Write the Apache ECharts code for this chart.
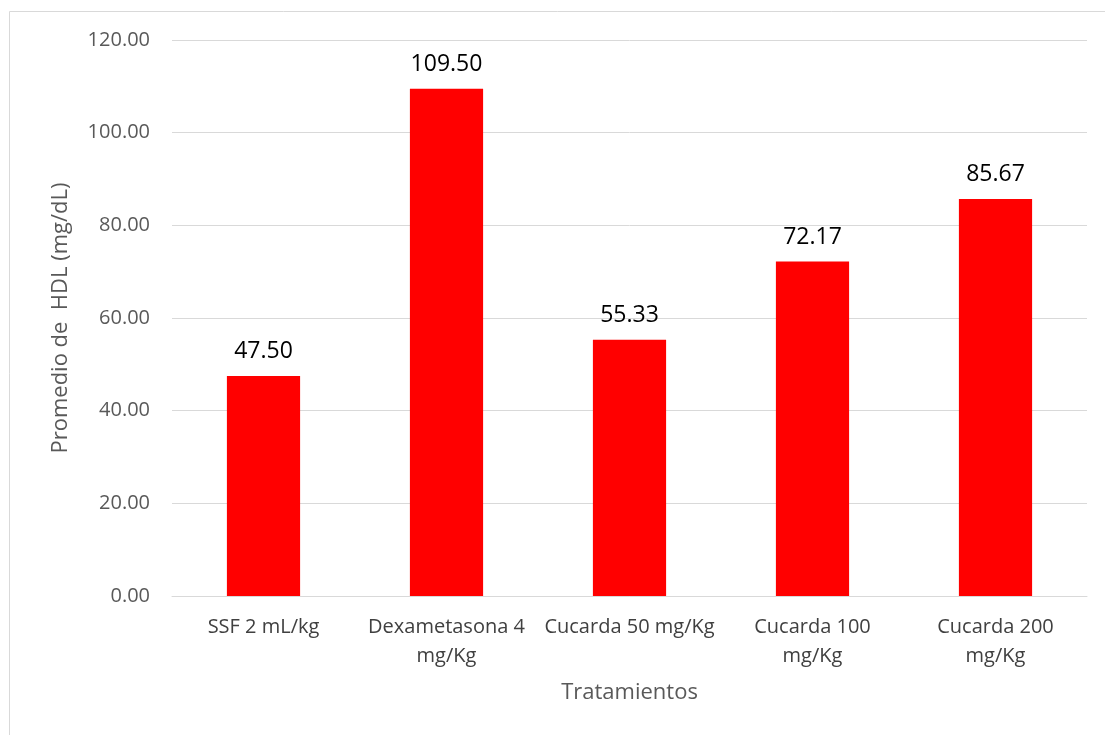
<!DOCTYPE html>
<html><head><meta charset="utf-8">
<script src="https://cdn.jsdelivr.net/npm/echarts@6/dist/echarts.min.js"></script>
<style>html,body{margin:0;padding:0;background:#fff}#c{width:1105px;height:735px}</style>
</head><body><div id="c"></div>
<script>
const categories = ["SSF 2 mL/kg", "Dexametasona 4\nmg/Kg", "Cucarda 50 mg/Kg", "Cucarda 100\nmg/Kg", "Cucarda 200\nmg/Kg"];
const values = [47.50, 109.50, 55.33, 72.17, 85.67];
const yTicks = { min: 0, max: 120, interval: 20 };
const yName = "Promedio de  HDL (mg/dL)";
const xName = "Tratamientos";
const font = "Open Sans";
const chart = echarts.init(document.getElementById('c'));
chart.setOption({
  animation: false,
  textStyle: { fontFamily: font },
  graphic: [{ type: 'rect', shape: { x: 9.5, y: 11.5, width: 1200, height: 800 }, style: { fill: 'none', stroke: '#d9d9d9', lineWidth: 1 } }],
  grid: { left: 172, right: 18, top: 40, bottom: 139 },
  xAxis: {
    type: 'category', data: categories,
    name: xName, nameLocation: 'middle', nameGap: 86,
    nameTextStyle: { fontSize: 22, color: '#595959', fontFamily: font },
    axisLine: { lineStyle: { color: '#d9d9d9', width: 1 } },
    axisTick: { show: false },
    axisLabel: { fontSize: 20, color: '#404040', fontFamily: font, margin: 17, lineHeight: 29, interval: 0 }
  },
  yAxis: {
    type: 'value', min: yTicks.min, max: yTicks.max, interval: yTicks.interval,
    name: yName, nameLocation: 'middle', nameGap: 100,
    nameTextStyle: { fontSize: 22, color: '#595959', fontFamily: font },
    axisLine: { show: false }, axisTick: { show: false },
    axisLabel: { fontSize: 20, color: '#595959', fontFamily: font, margin: 22, formatter: v => v.toFixed(2) },
    splitLine: { lineStyle: { color: '#d9d9d9', width: 1 } }
  },
  series: [{
    type: 'bar', data: values, barWidth: '40%',
    itemStyle: { color: '#ff0000' },
    label: { show: true, position: 'top', distance: 13, fontSize: 23, color: '#000', fontFamily: font, formatter: p => p.value.toFixed(2) }
  }]
});
</script></body></html>
